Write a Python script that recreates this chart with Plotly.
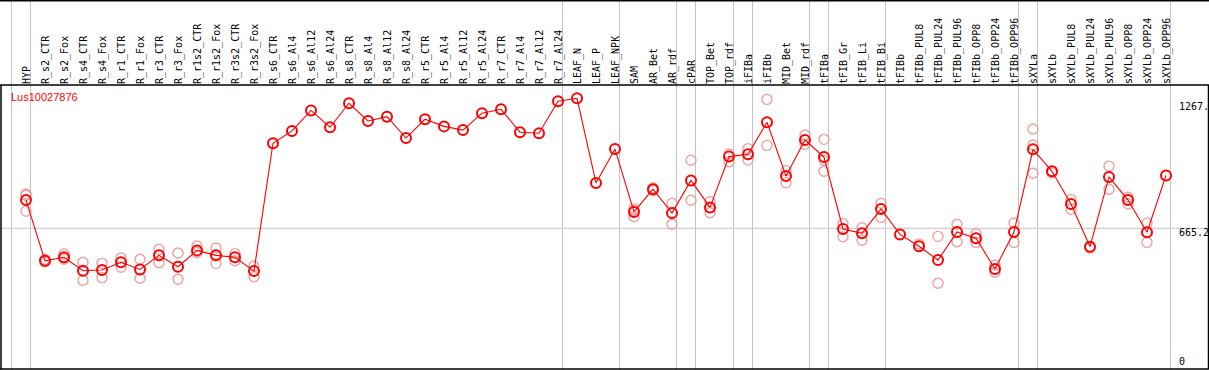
import plotly.graph_objects as go

W, H = 1209, 370

categories = [
    "HYP", "R_s2_CTR", "R_s2_Fox", "R_s4_CTR", "R_s4_Fox", "R_r1_CTR", "R_r1_Fox",
    "R_r3_CTR", "R_r3_Fox", "R_r1s2_CTR", "R_r1s2_Fox", "R_r3s2_CTR", "R_r3s2_Fox",
    "R_s6_CTR", "R_s6_Al4", "R_s6_Al12", "R_s6_Al24", "R_s8_CTR", "R_s8_Al4",
    "R_s8_Al12", "R_s8_Al24", "R_r5_CTR", "R_r5_Al4", "R_r5_Al12", "R_r5_Al24",
    "R_r7_CTR", "R_r7_Al4", "R_r7_Al12", "R_r7_Al24", "LEAF_N", "LEAF_P", "LEAF_NPK",
    "SAM", "AR_Bet", "AR_rdf", "cPAR", "TOP_Bet", "TOP_rdf", "iFIBa", "iFIBb",
    "MID_Bet", "MID_rdf", "tFIBa", "tFIB_Gr", "tFIB_Li", "tFIB_Bi", "tFIBb",
    "tFIBb_PUL8", "tFIBb_PUL24", "tFIBb_PUL96", "tFIBb_OPP8", "tFIBb_OPP24",
    "tFIBb_OPP96", "sXYLa", "sXYLb", "sXYLb_PUL8", "sXYLb_PUL24", "sXYLb_PUL96",
    "sXYLb_OPP8", "sXYLb_OPP24", "sXYLb_OPP96",
]

means = [
    796, 515, 531, 469, 472, 508, 475, 540, 487, 563, 540, 531, 467,
    1059, 1116, 1211, 1133, 1244, 1162, 1182, 1083, 1170, 1137, 1120, 1198,
    1216, 1110, 1105, 1253, 1267, 875, 1032,
    741, 846, 736, 887, 762, 997, 1008, 1156,
    907, 1074, 995, 662, 642, 755, 637,
    582, 518, 648, 619, 477, 648,
    1031, 929, 778, 580, 903, 796, 647, 910,
]

replicates = [
    [824, 818, 744], [522, 510, 513], [547, 523, 523], [508, 424], [503, 437],
    [528, 485], [522, 434], [568, 506], [551, 429], [583, 553], [574, 503],
    [548, 515], [491, 441],
    [], [], [], [], [], [], [], [], [], [], [], [], [], [], [], [], [], [], [],
    [755, 748, 719], [852, 840], [781, 684], [980, 795], [788, 737], [1009, 973],
    [1034, 981], [1262, 1049],
    [932, 876], [1097, 1054], [1077, 980, 929], [687, 626], [668, 610], [781, 715], [],
    [593], [628, 411], [684, 603], [640, 600], [495, 462], [690, 600],
    [1125, 1051, 920], [921], [798, 753], [574], [953, 846], [809, 778], [689, 600], [],
]

group_ends = [-1, 0, 28, 31, 34, 35, 37, 38, 41, 42, 45, 52, 53, 60]

gene = "Lus10027876"
mean_line = 665.2
y_labels = ["1267.", "665.2", "0"]

# pixel geometry helpers
HEADER = 85
x0_px, dx_px = 26.0, 19.0
xr = [(0 - x0_px) / dx_px, (W - x0_px) / dx_px]
k = 4.6292  # value per pixel
grid_px = 228.3
yr = [mean_line - (H - grid_px) * k, mean_line + (grid_px - HEADER) * k]

xs = list(range(len(categories)))
rep_x, rep_y = [], []
for i, reps in enumerate(replicates):
    for v in reps:
        rep_x.append(i)
        rep_y.append(v)

fig = go.Figure()
fig.add_trace(go.Scatter(
    x=rep_x, y=rep_y, mode="markers",
    marker=dict(symbol="circle-open", size=10, color="#f0a0a0", line=dict(width=1.4)),
    hoverinfo="skip", showlegend=False,
))
fig.add_trace(go.Scatter(
    x=xs, y=means, mode="lines+markers",
    line=dict(color="#ff0000", width=1.1),
    marker=dict(symbol="circle-open", size=10, color="#ff0000", line=dict(width=2)),
    showlegend=False,
))

def px_x(p):
    return p / W

def px_y(p):
    return 1 - p / H

shapes = []
for g in group_ends:
    shapes.append(dict(type="line", xref="x", yref="paper", x0=g + 0.237, x1=g + 0.237,
                       y0=0, y1=1, line=dict(color="#c4c4c4", width=1), layer="below"))
shapes.append(dict(type="line", xref="paper", yref="y", x0=0, x1=1, y0=mean_line, y1=mean_line,
                   line=dict(color="#c4c4c4", width=1), layer="below"))
for py in [0.75, HEADER, 369]:
    shapes.append(dict(type="line", xref="paper", yref="paper", x0=0, x1=1,
                       y0=px_y(py), y1=px_y(py), line=dict(color="black", width=1.5)))
for pxv in [1, 1208.5]:
    shapes.append(dict(type="line", xref="paper", yref="paper", x0=px_x(pxv), x1=px_x(pxv),
                       y0=px_y(HEADER), y1=px_y(369), line=dict(color="black", width=1.5)))

annotations = [
    dict(text=gene, xref="paper", yref="paper", x=px_x(9), y=px_y(97), xanchor="left",
         yanchor="middle", showarrow=False,
         font=dict(family="Liberation Sans", size=11, color="#ff0000")),
]
for txt, py in zip(y_labels, [107, 232.7, 361.7]):
    annotations.append(dict(text=txt, xref="paper", yref="paper", x=px_x(1177), y=px_y(py),
                            xanchor="left", yanchor="middle", showarrow=False,
                            font=dict(family="DejaVu Sans Mono", size=10, color="black")))

fig.update_layout(
    width=W, height=H,
    margin=dict(l=0, r=0, t=0, b=0),
    paper_bgcolor="white", plot_bgcolor="white",
    xaxis=dict(range=xr, side="top", tickmode="array", tickvals=xs, ticktext=categories,
               tickangle=-90, ticks="", showgrid=False, zeroline=False, showline=False,
               ticklabelshift=1,
               tickfont=dict(family="DejaVu Sans Mono", size=10, color="black"),
               domain=[0, 1]),
    yaxis=dict(range=yr, domain=[0, 1 - HEADER / H], showgrid=False, zeroline=False,
               showticklabels=False, showline=False),
    shapes=shapes,
    annotations=annotations,
)

fig.write_html("out.html", config={"displayModeBar": False},
               post_script="document.body.style.margin='0';document.body.style.padding='0';")
